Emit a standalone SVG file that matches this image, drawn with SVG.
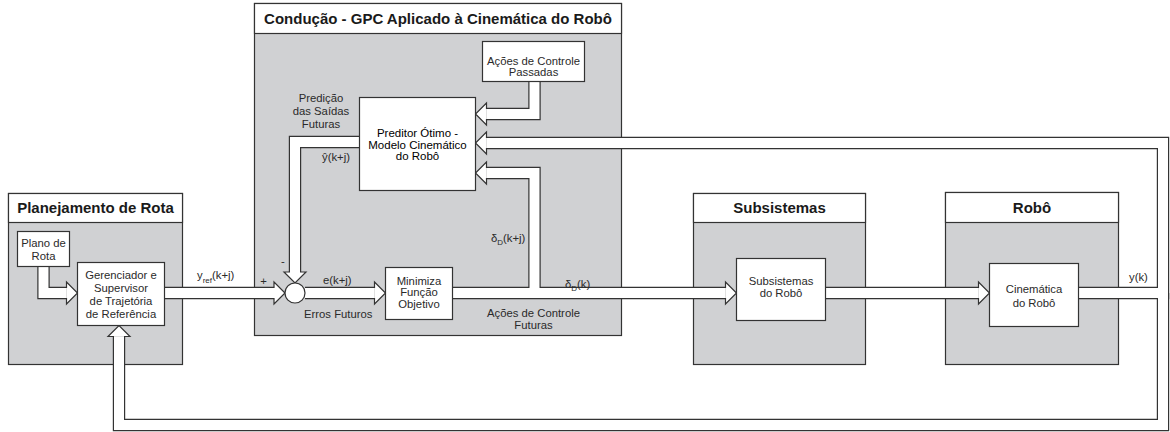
<svg xmlns="http://www.w3.org/2000/svg" width="1170" height="432" viewBox="0 0 1170 432">
  <style>
    .frame { fill: #d0d1d3; stroke: #333; stroke-width: 1.2; }
    .head { fill: #fff; stroke: #333; stroke-width: 1.2; }
    .box { fill: #fff; stroke: #333; stroke-width: 1.2; }
    .edge { fill: none; stroke: #333; stroke-width: 12.4; stroke-linejoin: miter; stroke-linecap: butt; }
    .core { fill: none; stroke: #fff; stroke-width: 10; stroke-linejoin: miter; stroke-linecap: butt; marker-end: url(#arrow); }
    .core.open { marker-end: none; }
    .title { font-family: "Liberation Sans", Arial, sans-serif; font-weight: bold; font-size: 15px; fill: #1a1a1a; text-anchor: middle; }
    .t { font-family: "Liberation Sans", Arial, sans-serif; font-size: 11.3px; fill: #2a2a2a; }
    .c { text-anchor: middle; }
    .dark { fill: #000; font-size: 11.5px; }
    .sub { font-size: 8px; }
  </style>
  <defs>
    <marker id="arrow" markerUnits="userSpaceOnUse" viewBox="-1 -12 14 24" refX="0" refY="0" markerWidth="14" markerHeight="24" orient="auto" overflow="visible">
      <path d="M0,-5 V-11 L11,0 L0,11 V5" fill="#fff" stroke="#333" stroke-width="1.2"/>
    </marker>
  </defs>
  <rect width="1170" height="432" fill="#fff"/>

  <!-- container frames -->
  <g id="planejamento">
    <rect class="frame" x="8.5" y="193.5" width="174" height="171"/>
    <rect class="head" x="8.5" y="193.5" width="174" height="29"/>
    <text class="title" x="95.5" y="213">Planejamento de Rota</text>
  </g>
  <g id="conducao">
    <rect class="frame" x="254.5" y="3.5" width="367" height="332"/>
    <rect class="head" x="254.5" y="3.5" width="367" height="30"/>
    <text class="title" x="438" y="24">Condução - GPC Aplicado à Cinemática do Robô</text>
  </g>
  <g id="subsistemas">
    <rect class="frame" x="693.5" y="193.5" width="172" height="171"/>
    <rect class="head" x="693.5" y="193.5" width="172" height="29"/>
    <text class="title" x="779.5" y="213">Subsistemas</text>
  </g>
  <g id="robo">
    <rect class="frame" x="945.5" y="192.5" width="173" height="172"/>
    <rect class="head" x="945.5" y="192.5" width="173" height="30"/>
    <text class="title" x="1032" y="213">Robô</text>
  </g>

  <!-- hollow channel connectors: dark outline pass, then white core pass -->
  <g id="connectors">
    <path class="edge" d="M43.5,266 V293 H66.5"/>
    <path class="edge" d="M164,293 H274"/>
    <path class="edge" d="M305,293 H374.5"/>
    <path class="edge" d="M452,293 H725.5"/>
    <path class="edge" d="M534.5,293 V173 H486.5"/>
    <path class="edge" d="M534.5,81 V114 H486.5"/>
    <path class="edge" d="M359,142 H295 V272"/>
    <path class="edge" d="M825,293 H978.5"/>
    <path class="edge" d="M1078,293 H1163 V143 H486.5"/>
    <path class="edge" d="M1163,293 V425 H119 V336.5"/>

    <path class="core" d="M43.5,266 V293 H66.5"/>
    <path class="core" d="M164,293 H274"/>
    <path class="core" d="M305,293 H374.5"/>
    <path class="core" d="M452,293 H725.5"/>
    <path class="core" d="M534.5,293 V173 H486.5"/>
    <path class="core" d="M534.5,81 V114 H486.5"/>
    <path class="core" d="M359,142 H295 V272"/>
    <path class="core" d="M825,293 H978.5"/>
    <path class="core" d="M1078,293 H1163 V143 H486.5"/>
    <path class="core" d="M1163,293 V425 H119 V336.5"/>

    <!-- summing junction -->
    <circle cx="295" cy="293" r="10" fill="#fff" stroke="#333" stroke-width="1.2"/>

    <!-- signal labels -->
    <text class="t" x="197" y="279">y<tspan class="sub" dy="4">ref</tspan><tspan dy="-4">(k+j)</tspan></text>
    <text class="t c" x="263.5" y="285">+</text>
    <text class="t c" x="283" y="265">-</text>
    <text class="t" x="323" y="284">e(k+j)</text>
    <text class="t" x="304" y="318">Erros Futuros</text>
    <text class="t c" x="321" y="102">Predição</text>
    <text class="t c" x="321" y="115">das Saídas</text>
    <text class="t c" x="321" y="128">Futuras</text>
    <text class="t" x="322" y="161">ŷ(k+j)</text>
    <text class="t" x="491" y="242">δ<tspan class="sub" dy="3">D</tspan><tspan dy="-3">(k+j)</tspan></text>
    <text class="t" x="565" y="288">δ<tspan class="sub" dy="3">D</tspan><tspan dy="-3">(k)</tspan></text>
    <text class="t c" x="533.5" y="317">Ações de Controle</text>
    <text class="t c" x="533.5" y="329">Futuras</text>
    <text class="t" x="1129" y="281">y(k)</text>
  </g>

  <!-- blocks -->
  <g id="plano-de-rota">
    <rect class="box" x="17.5" y="231.5" width="52" height="35"/>
    <text class="t c" x="43.5" y="247">Plano de</text>
    <text class="t c" x="43.5" y="260">Rota</text>
  </g>
  <g id="gerenciador">
    <rect class="box" x="77.5" y="262.5" width="87" height="63"/>
    <text class="t c" x="121" y="279">Gerenciador e</text>
    <text class="t c" x="121" y="292">Supervisor</text>
    <text class="t c" x="121" y="305">de Trajetória</text>
    <text class="t c" x="121" y="318">de Referência</text>
  </g>
  <g id="acoes-passadas">
    <rect class="box" x="482.5" y="41.5" width="102" height="40"/>
    <text class="t c" x="533.5" y="65">Ações de Controle</text>
    <text class="t c" x="533.5" y="75.5">Passadas</text>
  </g>
  <g id="preditor">
    <rect class="box" x="359.5" y="97.5" width="116" height="93"/>
    <text class="t c dark" x="417.5" y="137">Preditor Ótimo -</text>
    <text class="t c dark" x="417.5" y="148.5">Modelo Cinemático</text>
    <text class="t c dark" x="417.5" y="160">do Robô</text>
  </g>
  <g id="minimiza">
    <rect class="box" x="385.5" y="267.5" width="67" height="52"/>
    <text class="t c" x="419" y="285">Minimiza</text>
    <text class="t c" x="419" y="296">Função</text>
    <text class="t c" x="419" y="307.5">Objetivo</text>
  </g>
  <g id="subsistemas-robo">
    <rect class="box" x="736.5" y="258.5" width="89" height="62"/>
    <text class="t c" x="781" y="285">Subsistemas</text>
    <text class="t c" x="781" y="297">do Robô</text>
  </g>
  <g id="cinematica">
    <rect class="box" x="989.5" y="263.5" width="89" height="63"/>
    <text class="t c" x="1034" y="293">Cinemática</text>
    <text class="t c" x="1034" y="306.5">do Robô</text>
  </g>
</svg>
